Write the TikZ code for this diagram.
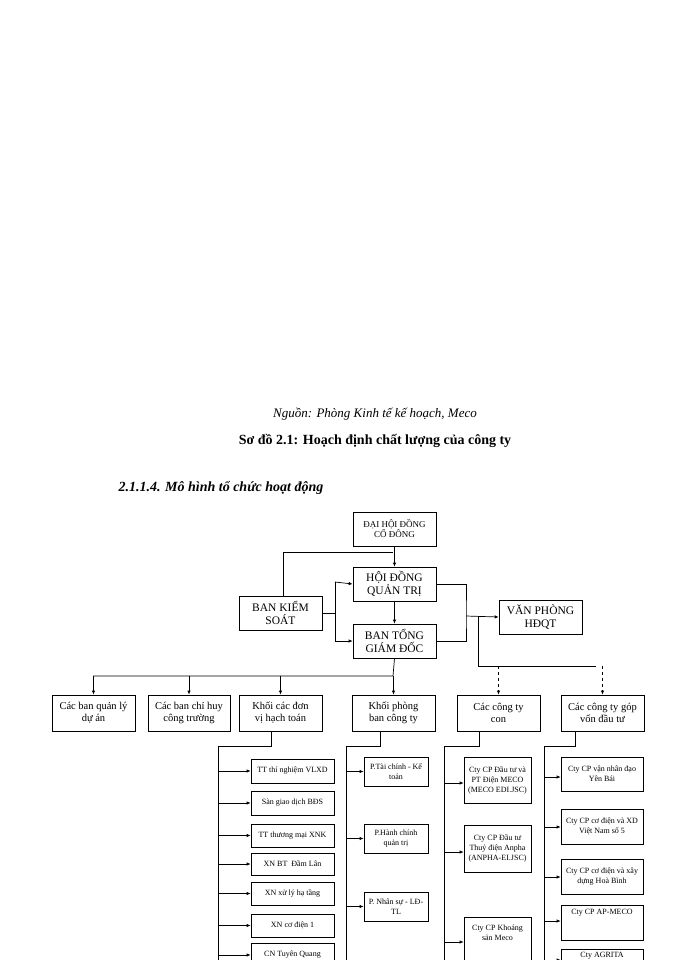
\documentclass[tikz,border=0pt]{standalone}
\usepackage{fontspec}
\setmainfont{Liberation Serif}
\usetikzlibrary{arrows.meta}
\begin{document}
\begin{tikzpicture}[x=1pt,y=-1pt,
  box/.style={draw,line width=0.7pt,align=center,inner sep=1pt,font=\fontsize{9}{10}\selectfont},
  big/.style={box,font=\fontsize{11.5}{12.5}\selectfont},
  mid/.style={box,font=\fontsize{10.5}{12}\selectfont},
  sm/.style={box,font=\fontsize{8}{10}\selectfont},
  ln/.style={line width=0.7pt},
  ar/.style={line width=0.7pt,-{Latex[length=4pt,width=3.5pt]}},
  da/.style={ar,dashed}]
\useasboundingbox (0,0) rectangle (700,960);
\clip (0,0) rectangle (700,960);
\node[font=\fontsize{13}{14}\selectfont\itshape] (src) at (375,414) {Nguồn: Phòng Kinh tế kế hoạch, Meco};
\node[font=\fontsize{14}{15}\selectfont\bfseries] (ttl) at (375,441) {Sơ đồ 2.1: Hoạch định chất lượng của công ty};
\node[font=\fontsize{14}{15}\selectfont\bfseries\itshape,anchor=west] (hd) at (115,488) {2.1.1.4. Mô hình tổ chức hoạt động};
% top level
\node[box,minimum width=83,minimum height=34] (dh) at (394.5,529) {ĐẠI HỘI ĐỒNG\\CỔ ĐÔNG};
\node[big,minimum width=83,minimum height=34] (qt) at (394.5,584) {HỘI ĐỒNG\\QUẢN TRỊ};
\node[big,minimum width=83,minimum height=34] (ks) at (280.5,613) {BAN KIỂM\\SOÁT};
\node[big,minimum width=83,minimum height=34] (gd) at (394.5,641) {BAN TỔNG\\GIÁM ĐỐC};
\node[big,minimum width=83,minimum height=34] (vp) at (540.5,617) {VĂN PHÒNG\\HĐQT};
\coordinate (j1) at (466,616);
\draw[ar] (dh) -- (qt);
\draw[ln] (ks.north -| 283,0) |- (393,552);
\draw[ar] (qt) -- (gd);
\draw[ln] (ks.east) -- (335,613);
\draw[ar] (335,582) -- (qt.west);
\draw[ar] (335,641) -- (gd.west);
\draw[ln] (335,582) -- (335,641);
\draw[ln] (qt.east) -| (j1) |- (gd.east);
\draw[ar] (j1) -- (vp.west);
\draw[ln] (478,616) -- (478,666) -- (596,666);
% second row
\node[mid,minimum width=83,minimum height=36] (b1) at (93.5,713) {Các ban quản lý\\dự án};
\node[mid,minimum width=82,minimum height=36] (b2) at (189,713) {Các ban chỉ huy\\công trường};
\node[mid,minimum width=83,minimum height=36] (b3) at (280.5,713) {Khối các đơn\\vị hạch toán};
\node[mid,minimum width=83,minimum height=36] (b4) at (393.5,713) {Khối phòng\\ban công ty};
\node[mid,minimum width=83,minimum height=36] (b5) at (498.5,713) {Các công ty\\con};
\node[mid,minimum width=83,minimum height=36] (b6) at (602.5,713) {Các công ty góp\\vốn đầu tư};
\draw[ln] (gd.south) -- (393,676) -- (93,676);
\foreach \b in {b1,b2,b3,b4}{\draw[ar] (\b.north |- 0,676) -- (\b.north);}
\draw[da] (b5.north |- 0,666) -- (b5.north);
\draw[da] (b6.north |- 0,666) -- (b6.north);
% column 1
\draw[ln] (271,731) -- (271,746) -- (218,746) -- (218,965);
\foreach \n/\y/\h/\t in {c1/771/24/TT thí nghiệm VLXD,c2/803/24/Sàn giao dịch BĐS,c3/835.5/23/TT thương mại XNK,c4/864/22/XN BT\ \ Đầm Lân,c5/893.5/23/XN xử lý hạ tầng,c6/925.5/23/XN cơ điện 1,c7/955/24/CN Tuyên Quang}{
  \node[sm,minimum width=83,minimum height=\h] (\n) at (292.5,\y) {\t};
  \draw[ar] (218,\y) -- (\n.west);}
% column 2
\draw[ln] (380,731) -- (380,746) -- (346,746) -- (346,965);
\node[sm,minimum width=64,minimum height=29] (d1) at (396,771.5) {P.Tài chính - Kế\\toán};
\node[sm,minimum width=64,minimum height=29] (d2) at (396,838.5) {P.Hành chính\\quản trị};
\node[sm,minimum width=64,minimum height=29] (d3) at (396,906.5) {P. Nhân sự - LĐ-\\TL};
\foreach \n in {d1,d2,d3}{\draw[ar] (\n.west -| 346,0) -- (\n.west);}
% column 3
\draw[ln] (479,731) -- (479,746) -- (444,746) -- (444,965);
\node[sm,minimum width=67,minimum height=46] (e1) at (497.5,780) {Cty CP Đầu tư và\\PT Điện MECO\\(MECO EDI.JSC)};
\node[sm,minimum width=67,minimum height=47] (e2) at (497.5,848.5) {Cty CP Đầu tư\\Thuỷ điện Anpha\\(ANPHA-EI.JSC)};
\node[sm,minimum width=67,minimum height=60,anchor=north] (e3) at (497.5,917) {Cty CP Khoáng\\sản Meco\\[20pt]~};
\draw[ar] (444,783) -- (444,783 -| e1.west);
\draw[ar] (444,852) -- (444,852 -| e2.west);
\draw[ar] (444,942) -- (444,942 -| e3.west);
% column 4
\draw[ln] (575,731) -- (575,746) -- (544,746) -- (544,965);
\node[sm,minimum width=82,minimum height=34] (f1) at (602,774) {Cty CP vận nhân đạo\\Yên Bái};
\node[sm,minimum width=82,minimum height=35] (f2) at (602,826.5) {Cty CP cơ điện và XD\\Việt Nam số 5};
\node[sm,minimum width=82,minimum height=35] (f3) at (602,876.5) {Cty CP cơ điện và xây\\dựng Hoà Bình};
\node[sm,minimum width=82,minimum height=35,anchor=north] (f4) at (602,905) {Cty CP AP-MECO\\[12pt]~};
\node[sm,minimum width=82,minimum height=30,anchor=north] (f5) at (602,949) {Cty AGRITA\\[10pt]~};
\foreach \n/\y in {f1/777,f2/827,f3/877,f4/921,f5/960}{\draw[ar] (544,\y) -- (544,\y -| \n.west);}
\end{tikzpicture}
\end{document}
